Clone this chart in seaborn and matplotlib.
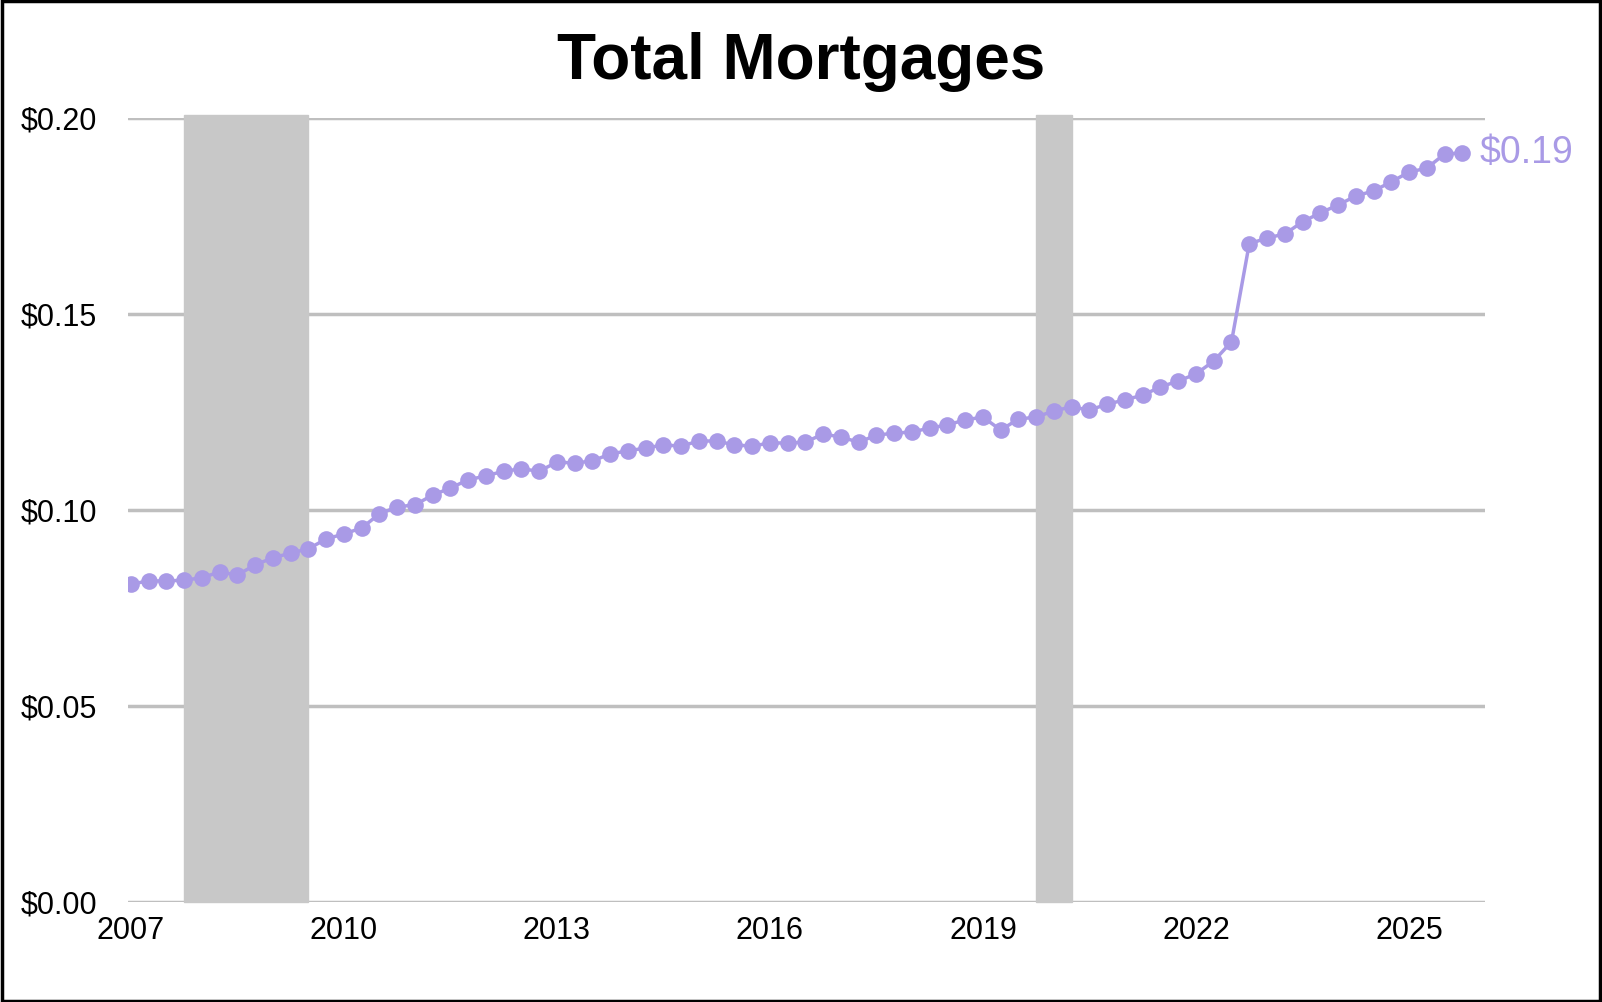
import matplotlib
matplotlib.use("Agg")
import matplotlib.pyplot as plt
import seaborn as sns
import numpy as np
import pandas as pd

values = [0.0811,0.0819,0.0819,0.0821,0.0827,0.0842,0.0834,0.0860,0.0878,0.0890,
          0.0901,0.0926,0.0939,0.0954,0.0990,0.1008,0.1013,0.1038,0.1056,0.1077,
          0.1087,0.1099,0.1105,0.1099,0.1122,0.1120,0.1125,0.1143,0.1151,0.1158,
          0.1166,0.1163,0.1176,0.1176,0.1166,0.1163,0.1171,0.1171,0.1173,0.1194,
          0.1186,0.1173,0.1191,0.1196,0.1199,0.1209,0.1217,0.1230,0.1237,0.1204,
          0.1232,0.1237,0.1253,0.1263,0.1255,0.1270,0.1281,0.1293,0.1314,0.1329,
          0.1347,0.1380,0.1429,0.1679,0.1694,0.1704,0.1735,0.1758,0.1778,0.1801,
          0.1814,0.1837,0.1862,0.1872,0.1908,0.1911]
start_year = 2007
dates = [start_year + i / 4 for i in range(len(values))]
recessions = [(2007.75, 2009.5), (2019.75, 2020.25)]
xticks = [2007, 2010, 2013, 2016, 2019, 2022, 2025]
yticks = [0.0, 0.05, 0.10, 0.15, 0.20]

sns.set_theme(style="white")
plt.rcParams['font.family'] = ['Liberation Sans', 'DejaVu Sans']
plt.rcParams['text.color'] = 'black'
plt.rcParams['xtick.color'] = 'black'
plt.rcParams['ytick.color'] = 'black'
df = pd.DataFrame({"date": dates, "value": values})
color = "#a99ae6"

fig = plt.figure(figsize=(16.02, 10.02), dpi=100)
ax = fig.add_axes([128/1602, 1 - 902/1002, (1485-128)/1602, (902-118)/1002])
for a, b in recessions:
    ax.axvspan(a, b, ymin=0, ymax=1.004, color="#c8c8c8", zorder=1, clip_on=False)
for y in yticks:
    ax.axhline(y, color="#bfbfbf", lw=2.5, zorder=0)
sns.lineplot(data=df, x="date", y="value", ax=ax, color=color, lw=2.5,
             marker="o", markersize=12, markeredgewidth=0, zorder=3)
ax.text(dates[-1] + 0.25, values[-1], f"${values[-1]:.2f}", color=color,
        fontsize=27, va="center", ha="left")
ax.set_xlim(2007 - 0.04, 2026.07)
ax.set_ylim(0, 0.2)
ax.set_xticks(xticks)
ax.set_xticklabels([str(x) for x in xticks], fontsize=22)
ax.set_yticks(yticks)
ax.set_yticklabels([f"${y:.2f}" for y in yticks], fontsize=22)
ax.tick_params(axis="y", pad=22, length=0)
ax.tick_params(axis="x", pad=10, length=0)
ax.set_xlabel("")
ax.set_ylabel("")
for s in ax.spines.values():
    s.set_visible(False)
fig.text(0.5, 1 - 62/1002, "Total Mortgages", ha="center", va="center",
         fontsize=46, fontweight="bold", color="black")
fig.patches.append(plt.Rectangle((0.001, 0.001), 0.998, 0.998, transform=fig.transFigure,
                                 fill=False, edgecolor="black", lw=2.5))
fig.savefig("out.png", dpi=100)
